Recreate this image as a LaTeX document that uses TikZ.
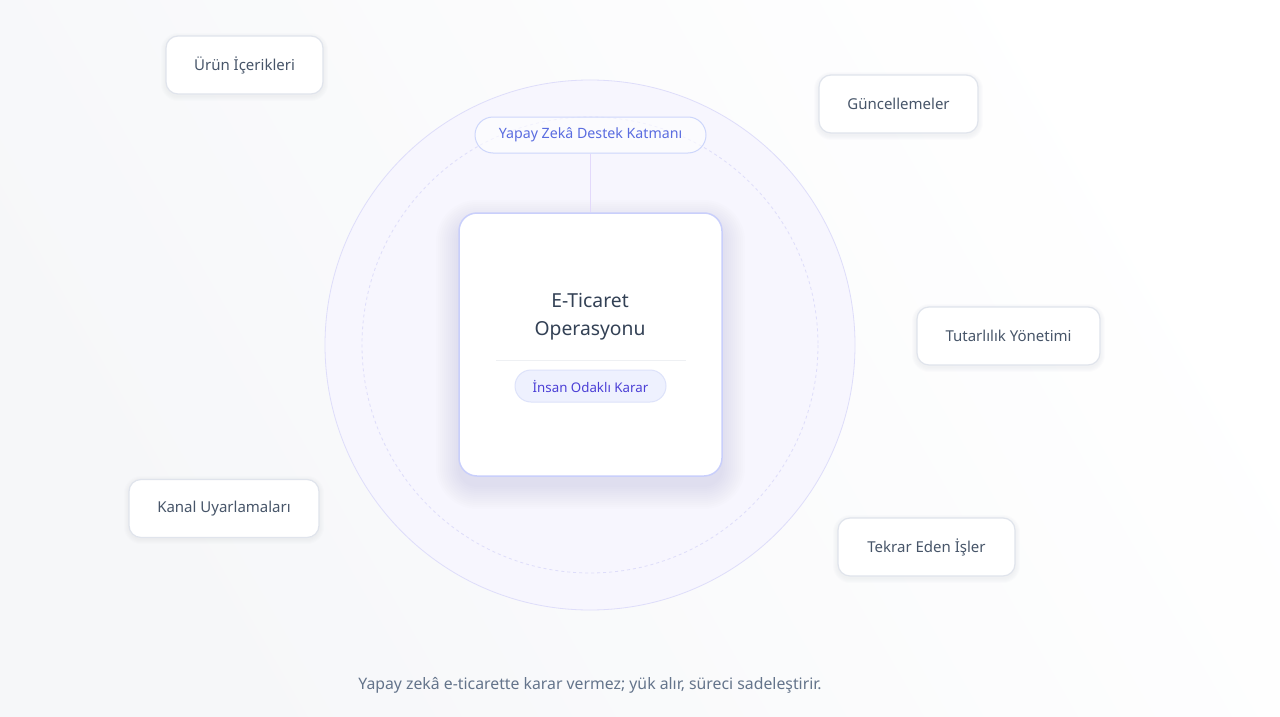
\documentclass[tikz,border=0pt]{standalone}
\usepackage{fontspec}
\setmainfont{Noto Sans}
\definecolor{bgtop}{HTML}{F6F7F9}
\definecolor{ringfill}{HTML}{F7F6FE}
\definecolor{ringline}{HTML}{DEDDFA}
\definecolor{cardline}{HTML}{C9CFFB}
\definecolor{pillline}{HTML}{CDD6FB}
\definecolor{pilltext}{HTML}{5A6CE0}
\definecolor{stemline}{HTML}{E3D9FB}
\definecolor{divline}{HTML}{EEF0F3}
\definecolor{tagfill}{HTML}{EEF1FE}
\definecolor{tagline}{HTML}{DDE2FA}
\definecolor{tagtext}{HTML}{4B3FD6}
\definecolor{boxline}{HTML}{E0E4EC}
\definecolor{titletext}{HTML}{334155}
\definecolor{boxtext}{HTML}{475569}
\definecolor{notetext}{HTML}{64748B}
\definecolor{shadowc}{HTML}{4C4F7A}
\tikzset{
  satellite/.style={draw=boxline,line width=1.2pt,fill=white,rounded corners=12pt,
    minimum height=58pt,inner xsep=0pt,text=boxtext,font=\fontsize{15}{18}\selectfont},
}
\begin{document}
\begin{tikzpicture}[x=1pt,y=-1pt]
 \shade[left color=bgtop,right color=white,shading angle=120] (0,0) rectangle (1280,717);
 \useasboundingbox (0,0) rectangle (1280,717);
 % rings
 \filldraw[fill=ringfill,draw=ringline,line width=0.8pt] (590,345) circle(265);
 \draw[ringline,dashed,line width=0.8pt] (590,345) circle(228);
 % soft shadows
 \foreach \s in {1,3,...,23}
  \fill[shadowc,opacity=0.009,rounded corners=18pt+\s pt] (459-\s,223-\s) rectangle (722+\s,486+\s);
 \foreach \b/\l/\t/\r in {c/166/36/323,u/819/75/978,t/917/307/1100,k/129/479/319,r/838/518/1015}
  \foreach \s in {1,2,...,5}
   \fill[shadowc,opacity=0.012,rounded corners=12pt+\s pt] (\l-\s,\t+2-\s) rectangle (\r+\s,\t+60+\s);
 % centre card
 \node[draw=cardline,line width=1.5pt,fill=white,rounded corners=18pt,minimum width=263pt,minimum height=263pt] (card) at (590.5,344.5) {};
 \node[text=titletext,align=center,font=\fontsize{19.3}{28}\selectfont] (title) at (590,316.5) {E-Ticaret\\Operasyonu};
 \draw[divline,line width=1pt] (496,360) -- (686,360);
 \node[draw=tagline,fill=tagfill,line width=1pt,rounded corners=16pt,minimum width=151pt,minimum height=32pt,
   text=tagtext,font=\fontsize{13.3}{16}\selectfont] (focus) at (590.5,386) {İnsan Odaklı Karar};
 % layer label
 \node[draw=pillline,fill=white,fill opacity=0.6,text opacity=1,line width=1pt,rounded corners=18pt,
   minimum width=231pt,minimum height=36pt,text=pilltext,font=\fontsize{14.2}{16}\selectfont] (layer) at (590.5,135) {Yapay Zekâ Destek Katmanı};
 \draw[stemline,line width=1pt] (layer.south) -- (card.north);
 % satellites
 \node[satellite,minimum width=157pt] (content) at (244.5,65) {Ürün İçerikleri};
 \node[satellite,minimum width=159pt] (updates) at (898.5,104) {Güncellemeler};
 \node[satellite,minimum width=183pt] (consistency) at (1008.5,336) {Tutarlılık Yönetimi};
 \node[satellite,minimum width=190pt] (channel) at (224,508.5) {Kanal Uyarlamaları};
 \node[satellite,minimum width=177pt] (repeat) at (926.5,547) {Tekrar Eden İşler};
 % note
 \node[text=notetext,font=\fontsize{15.8}{18}\selectfont] (note) at (590,685) {Yapay zekâ e-ticarette karar vermez; yük alır, süreci sadeleştirir.};
\end{tikzpicture}
\end{document}
